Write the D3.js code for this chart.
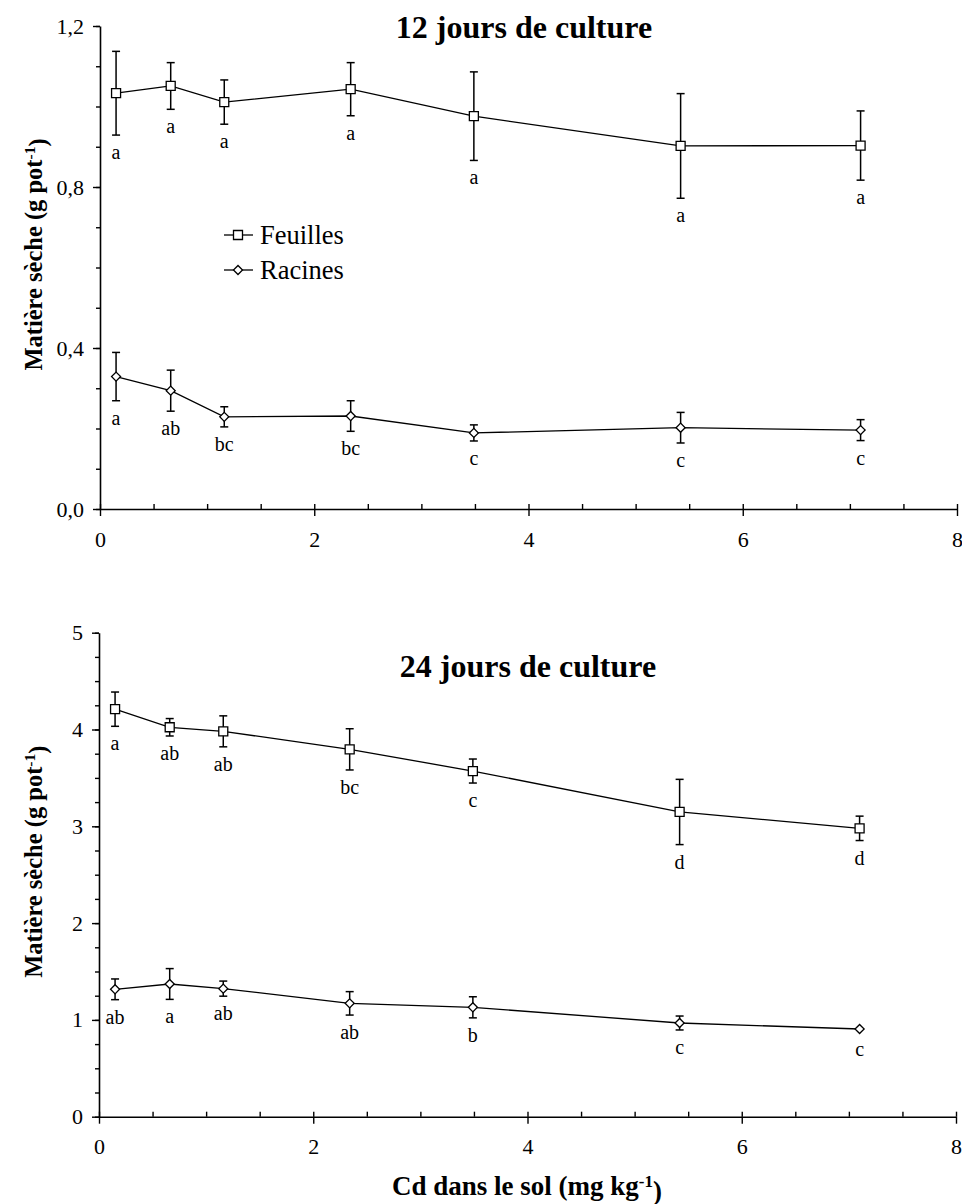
<!DOCTYPE html>
<html><head><meta charset="utf-8">
<script src="https://cdn.jsdelivr.net/npm/d3@7"></script>
<style>
body{margin:0;background:#fff}
svg{display:block}
text{font-family:"Liberation Serif","Times New Roman",serif;fill:#000}
</style>
</head><body>
<svg id="c" width="962" height="1204"></svg>
<script>
// ---- data ----
const cd = [0.15, 0.66, 1.16, 2.34, 3.49, 5.42, 7.10];

const feuilles12      = [1.033, 1.051, 1.011, 1.043, 0.976, 0.902, 0.903];
const feuilles12Err   = [0.104, 0.058, 0.055, 0.066, 0.110, 0.130, 0.086];
const feuilles12Lettres = ["a", "a", "a", "a", "a", "a", "a"];
const racines12       = [0.329, 0.294, 0.229, 0.231, 0.189, 0.202, 0.196];
const racines12Err    = [0.060, 0.051, 0.025, 0.038, 0.020, 0.038, 0.026];
const racines12Lettres = ["a", "ab", "bc", "bc", "c", "c", "c"];

const feuilles24      = [4.210, 4.023, 3.981, 3.795, 3.571, 3.148, 2.979];
const feuilles24Err   = [0.177, 0.090, 0.160, 0.213, 0.124, 0.337, 0.126];
const feuilles24Lettres = ["a", "ab", "ab", "bc", "c", "d", "d"];
const racines24       = [1.316, 1.371, 1.323, 1.171, 1.130, 0.968, 0.906];
const racines24Err    = [0.107, 0.159, 0.078, 0.121, 0.109, 0.072, 0.030];
const racines24Lettres = ["ab", "a", "ab", "ab", "b", "c", "c"];

const xTicks = [0, 2, 4, 6, 8];
const xTickLabels = ["0", "2", "4", "6", "8"];
const xMinorTicks = [0, 0.5, 1, 1.5, 2, 2.5, 3, 3.5, 4, 4.5, 5, 5.5, 6, 6.5, 7, 7.5, 8];

const yTicks12 = [0, 0.4, 0.8, 1.2];
const yTickLabels12 = ["0,0", "0,4", "0,8", "1,2"];
const yMinorTicks12 = [0, 0.1, 0.2, 0.3, 0.4, 0.5, 0.6, 0.7, 0.8, 0.9, 1.0, 1.1, 1.2];

const yTicks24 = [0, 1, 2, 3, 4, 5];
const yTickLabels24 = ["0", "1", "2", "3", "4", "5"];
const yMinorTicks24 = [0, 0.25, 0.5, 0.75, 1, 1.25, 1.5, 1.75, 2, 2.25, 2.5, 2.75, 3, 3.25, 3.5, 3.75, 4, 4.25, 4.5, 4.75, 5];

const titles = ["12 jours de culture", "24 jours de culture"];
const legendLabels = ["Feuilles", "Racines"];

// ---- drawing ----
const svg = d3.select("#c");

function panel(cfg) {
  const x = d3.scaleLinear().domain([0, 8]).range([cfg.x0, cfg.x1]);
  const y = d3.scaleLinear().domain([0, cfg.yMax]).range([cfg.yBottom, cfg.yTop]);
  const g = svg.append("g");

  // y minor ticks
  const ym = g.append("g").attr("transform", `translate(${cfg.x0},0)`)
    .call(d3.axisLeft(y).tickValues(cfg.yMinor).tickSize(4).tickFormat(""));
  ym.select(".domain").remove();
  // y major axis
  const ya = g.append("g").attr("transform", `translate(${cfg.x0},0)`)
    .call(d3.axisLeft(y).tickValues(cfg.yTicks).tickSize(7).tickSizeOuter(0).tickPadding(9)
      .tickFormat((d, i) => cfg.yLabels[i]));
  ya.selectAll("text").style("font-size", "22px").style("font-family", '"Liberation Serif",serif');

  // x minor ticks (inside)
  const xm = g.append("g").attr("transform", `translate(0,${cfg.yBottom})`)
    .call(d3.axisTop(x).tickValues(xMinorTicks).tickSize(5).tickFormat(""));
  xm.select(".domain").remove();
  // x major axis
  const xa = g.append("g").attr("transform", `translate(0,${cfg.yBottom})`)
    .call(d3.axisBottom(x).tickValues(xTicks).tickSize(7).tickSizeOuter(0).tickPadding(15)
      .tickFormat((d, i) => xTickLabels[i]));
  xa.selectAll("text").style("font-size", "22px").style("font-family", '"Liberation Serif",serif');

  g.selectAll(".domain").attr("stroke-width", 1.6);
  g.selectAll(".tick line").attr("stroke-width", 1.4);

  const line = d3.line().x((d, i) => x(cd[i])).y(d => y(d));

  cfg.series.forEach(s => {
    // connecting line
    g.append("path").datum(s.values).attr("d", line)
      .attr("fill", "none").attr("stroke", "#000").attr("stroke-width", 1.3);
    // error bars
    const eb = g.append("g");
    s.values.forEach((v, i) => {
      const e = s.err[i];
      const yt = y(v + e), yb = y(v - e), xc = x(cd[i]);
      if (yb - yt > 2 * s.markerHalf) {
        eb.append("line").attr("x1", xc).attr("x2", xc).attr("y1", yt).attr("y2", yb);
        eb.append("line").attr("x1", xc - 4).attr("x2", xc + 4).attr("y1", yt).attr("y2", yt);
        eb.append("line").attr("x1", xc - 4).attr("x2", xc + 4).attr("y1", yb).attr("y2", yb);
      }
    });
    eb.selectAll("line").attr("stroke", "#000").attr("stroke-width", 1.5);
    // markers
    g.append("g").selectAll("path").data(s.values).join("path")
      .attr("d", d3.symbol(d3.symbolSquare, s.symSize))
      .attr("transform", (d, i) => `translate(${x(cd[i])},${y(d)}) rotate(${s.rot})`)
      .attr("fill", "#fff").attr("stroke", "#000").attr("stroke-width", 1.3);
    // letters
    g.append("g").selectAll("text").data(s.values).join("text")
      .attr("x", (d, i) => x(cd[i]))
      .attr("y", (d, i) => y(d - s.err[i]) + 24)
      .attr("text-anchor", "middle").style("font-size", "20px")
      .text((d, i) => s.letters[i]);
  });

  // title
  g.append("text").attr("x", cfg.titleX).attr("y", cfg.titleY)
    .attr("text-anchor", "middle").style("font-size", "32px").style("font-weight", "bold")
    .text(cfg.title);

  // y label
  const yl = g.append("text")
    .attr("transform", `translate(42,${(cfg.yTop + cfg.yBottom) / 2 - 13}) rotate(-90)`)
    .attr("text-anchor", "middle").style("font-size", "24.5px").style("font-weight", "bold");
  yl.append("tspan").text("Matière sèche (g pot");
  yl.append("tspan").attr("dy", "-0.45em").style("font-size", "15.5px").text("-1");
  yl.append("tspan").attr("dy", "0.45em").text(")");
  return {x, y, g};
}

const sq = {symSize: 81, rot: 0, markerHalf: 4.5};
const dm = {symSize: 41, rot: 45, markerHalf: 4.5};

const p1 = panel({
  x0: 100, x1: 957, yTop: 26, yBottom: 509, yMax: 1.2,
  yTicks: yTicks12, yLabels: yTickLabels12, yMinor: yMinorTicks12,
  title: titles[0], titleX: 524, titleY: 38,
  series: [
    Object.assign({values: feuilles12, err: feuilles12Err, letters: feuilles12Lettres}, sq),
    Object.assign({values: racines12, err: racines12Err, letters: racines12Lettres}, dm)
  ]
});

const p2 = panel({
  x0: 99, x1: 956, yTop: 632.7, yBottom: 1116.7, yMax: 5,
  yTicks: yTicks24, yLabels: yTickLabels24, yMinor: yMinorTicks24,
  title: titles[1], titleX: 528, titleY: 677,
  series: [
    Object.assign({values: feuilles24, err: feuilles24Err, letters: feuilles24Lettres}, sq),
    Object.assign({values: racines24, err: racines24Err, letters: racines24Lettres}, dm)
  ]
});

// legend (top panel)
const lg = svg.append("g");
[sq, dm].forEach((m, i) => {
  const ly = 235 + i * 35;
  lg.append("line").attr("x1", 224).attr("x2", 253).attr("y1", ly).attr("y2", ly)
    .attr("stroke", "#000").attr("stroke-width", 1.3);
  lg.append("path").attr("d", d3.symbol(d3.symbolSquare, m.symSize))
    .attr("transform", `translate(238,${ly}) rotate(${m.rot})`)
    .attr("fill", "#fff").attr("stroke", "#000").attr("stroke-width", 1.3);
  lg.append("text").attr("x", 260).attr("y", ly + 9).style("font-size", "26.5px").text(legendLabels[i]);
});

// x label
const xl = svg.append("text").attr("x", 527).attr("y", 1195)
  .attr("text-anchor", "middle").style("font-size", "27px").style("font-weight", "bold");
xl.append("tspan").text("Cd dans le sol (mg kg");
xl.append("tspan").attr("dy", "-0.45em").style("font-size", "17px").text("-1");
xl.append("tspan").attr("dy", "0.45em").text(")");
</script>
</body></html>
